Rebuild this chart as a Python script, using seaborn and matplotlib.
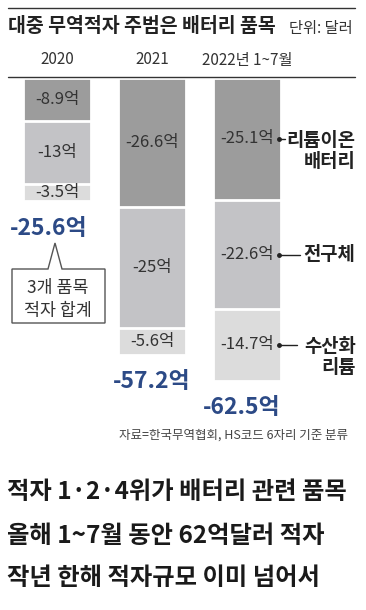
import matplotlib
matplotlib.use("Agg")
import matplotlib.pyplot as plt
from matplotlib.lines import Line2D
from matplotlib.patches import Polygon
import seaborn as sns
import pandas as pd

# ---------------- data ----------------
years = ["2020", "2021", "2022년 1~7월"]
li_ion = [-8.9, -26.6, -25.1]          # 리튬이온 배터리
precursor = [-13.0, -25.0, -22.6]      # 전구체
lithium_hydroxide = [-3.5, -5.6, -14.7]  # 수산화 리튬
totals = [-25.6, -57.2, -62.5]
series_names = ["리튬이온\n배터리", "전구체", "수산화\n리튬"]

# ---------------- style ----------------
sns.set_theme(style="white")
plt.rcParams["font.family"] = ["Noto Sans CJK KR", "DejaVu Sans"]
plt.rcParams["axes.unicode_minus"] = False

W, H = 366, 610
fig = plt.figure(figsize=(W / 100, H / 100), dpi=100)

def fx(px):
    return px / W

def fy(py):
    return 1 - py / H

# axes: y=0 at 78px, y=-80 at 466px
top_px, bot_px = 78, 466
ax = fig.add_axes([0, fy(bot_px), 1, (bot_px - top_px) / H])

c_dark = "#9c9c9c"
c_mid = "#c3c3c6"
c_light = "#dcdcdc"

df = pd.DataFrame({"year": years, "li": li_ion, "pre": precursor, "lh": lithium_hydroxide})
df["cum1"] = df["li"]
df["cum2"] = df["li"] + df["pre"]
df["cum3"] = df["li"] + df["pre"] + df["lh"]

bw = 0.71
for col, colr in [("cum3", c_light), ("cum2", c_mid), ("cum1", c_dark)]:
    sns.barplot(data=df, x="year", y=col, order=years, color=colr, width=bw,
                edgecolor="white", linewidth=2, ax=ax, saturation=1)

ax.set_ylim(-80, 0)
ax.set_xlim(-0.6, 3.25)
ax.axis("off")

txt_c = "#333333"
# segment labels
for i in range(len(years)):
    segs = [li_ion[i], precursor[i], lithium_hydroxide[i]]
    start = 0.0
    for v in segs:
        mid = start + v / 2
        ax.text(i, mid, f"-{abs(v):g}억", ha="center", va="center",
                fontsize=12, color=txt_c)
        start += v

# totals
blue = "#2c4a86"
dxs = [-6, 0, -4]
for i, t in enumerate(totals):
    ax.annotate(f"-{abs(t):g}억", (i, t), xytext=(dxs[i], -19),
                textcoords="offset points", ha="center", va="center",
                fontsize=16.5, fontweight="bold", color=blue)

# year headers
for i, y in enumerate(years):
    ax.annotate(y, (i, fy(60)), xycoords=("data", "figure fraction"),
                ha="center", va="center", fontsize=11, color=txt_c)

# right-side series labels with connectors (2022 bar)
last = len(years) - 1
segs = [li_ion[last], precursor[last], lithium_hydroxide[last]]
line_end = [2.40, 2.56, 2.52]
start = 0.0
for k, v in enumerate(segs):
    mid = start + v / 2
    start += v
    ax.plot([2.337, line_end[k]], [mid, mid], color="#222222", lw=1)
    ax.plot([2.337], [mid], marker="o", ms=2.5, color="#222222")
    nl = series_names[k].count("\n")
    ax.annotate(series_names[k], (3.14, mid), xytext=(0, -8.5 * nl),
                textcoords="offset points", ha="right", va="center",
                fontsize=13.5, fontweight="bold", color="#222222",
                linespacing=1.15)

# rules
fig.add_artist(Line2D([fx(8), fx(355)], [fy(8), fy(8)], color="#333333", lw=1))
fig.add_artist(Line2D([fx(8), fx(355)], [fy(77), fy(77)], color="#333333", lw=1))

# title
fig.text(fx(8), fy(27), "대중 무역적자 주범은 배터리 품목", ha="left", va="center",
         fontsize=14, fontweight="bold", color="#222222")
fig.text(fx(353), fy(28), "단위: 달러", ha="right", va="center",
         fontsize=11, color="#333333")

# callout box
pts = [(12, 269), (48, 269), (55, 243), (62, 269), (105, 269), (105, 323), (12, 323)]
poly = Polygon([(fx(x), fy(y)) for x, y in pts], closed=True, transform=fig.transFigure,
               facecolor="white", edgecolor="#555555", lw=1)
fig.add_artist(poly)
fig.text(fx(58), fy(288), "3개 품목", ha="center", va="center", fontsize=12.5, color=txt_c)
fig.text(fx(58), fy(311), "적자 합계", ha="center", va="center", fontsize=12.5, color=txt_c)

# source
fig.text(fx(348), fy(435), "자료=한국무역협회, HS코드 6자리 기준 분류", ha="right",
         va="center", fontsize=9, color="#444444")

# bottom headline
lines = ["적자 1·2·4위가 배터리 관련 품목", "올해 1~7월 동안 62억달러 적자", "작년 한해 적자규모 이미 넘어서"]
for yy, s in zip([492, 536, 578], lines):
    fig.text(fx(7), fy(yy), s, ha="left", va="center", fontsize=17.5,
             fontweight="bold", color="#1a1a1a")

fig.savefig("out.png", dpi=100, facecolor="white")
